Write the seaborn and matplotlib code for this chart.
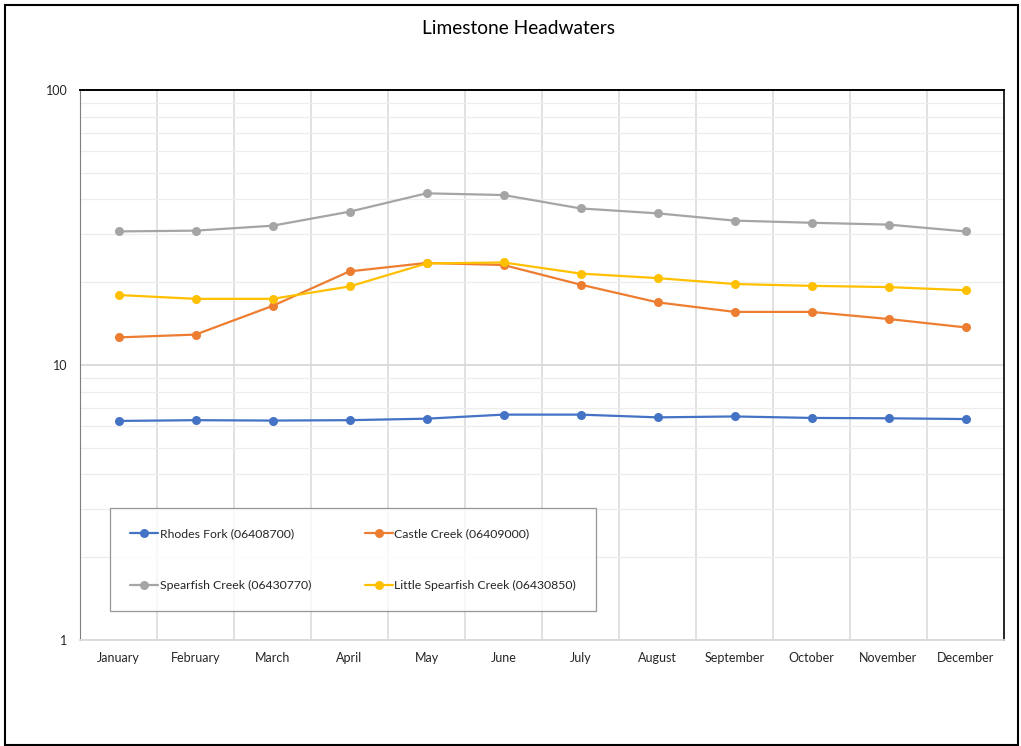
import numpy as np
import pandas as pd
import matplotlib
matplotlib.use("Agg")
import matplotlib.pyplot as plt
import matplotlib.ticker as mticker
from matplotlib.patches import Rectangle
import seaborn as sns

months = ["January", "February", "March", "April", "May", "June", "July",
          "August", "September", "October", "November", "December"]

rhodes_fork = [6.26, 6.30, 6.28, 6.30, 6.38, 6.60, 6.60, 6.45, 6.50, 6.42, 6.40, 6.36]
castle_creek = [12.6, 12.9, 16.4, 21.9, 23.5, 23.1, 19.6, 16.9, 15.6, 15.6, 14.7, 13.7]
spearfish_creek = [30.6, 30.8, 32.1, 36.1, 42.1, 41.5, 37.1, 35.6, 33.5, 32.9, 32.4, 30.6]
little_spearfish = [17.97, 17.4, 17.4, 19.3, 23.4, 23.6, 21.5, 20.7, 19.7, 19.4, 19.2, 18.7]

series_names = ["Rhodes Fork (06408700)", "Castle Creek (06409000)",
                "Spearfish Creek (06430770)", "Little Spearfish Creek (06430850)"]
series_values = [rhodes_fork, castle_creek, spearfish_creek, little_spearfish]
colors = ["#4472C4", "#ED7D31", "#A5A5A5", "#FFC000"]

df = pd.concat(
    [pd.DataFrame({"month": months, "value": vals, "site": name})
     for name, vals in zip(series_names, series_values)],
    ignore_index=True,
)

sns.set_theme(style="white")
plt.rcParams["font.family"] = ["Lato", "DejaVu Sans"]

fig = plt.figure(figsize=(10.21, 7.46), dpi=100)
ax = fig.add_axes([80 / 1021, 1 - 640 / 746, 924 / 1021, 550 / 746])

sns.lineplot(data=df, x="month", y="value", hue="site", palette=colors,
             marker="o", markersize=6.5, markeredgewidth=0, linewidth=1.6,
             ax=ax, legend=True, sort=False)

ax.set_yscale("log")
ax.set_ylim(1, 100)
ax.set_xlim(-0.5, 11.5)

ax.yaxis.set_major_locator(mticker.FixedLocator([1, 10, 100]))
ax.yaxis.set_major_formatter(mticker.FixedFormatter(["1", "10", "100"]))
ax.yaxis.set_minor_locator(mticker.LogLocator(base=10, subs=np.arange(2, 10)))
ax.yaxis.set_minor_formatter(mticker.NullFormatter())
ax.xaxis.set_minor_locator(mticker.FixedLocator(np.arange(0.5, 11, 1)))

ax.grid(False)
ax.grid(axis="y", which="major", color="#D9D9D9", linewidth=1.3)
ax.grid(axis="y", which="minor", color="#EDEDED", linewidth=0.9)
ax.grid(axis="x", which="minor", color="#D9D9D9", linewidth=1.1)
ax.set_axisbelow(True)

ax.tick_params(axis="both", which="both", length=0)
ax.tick_params(axis="x", labelsize=9, colors="#262626", pad=9)
ax.tick_params(axis="y", labelsize=9, colors="#262626", pad=9)
ax.set_xlabel("")
ax.set_ylabel("")

ax.spines["top"].set_color("#000000")
ax.spines["top"].set_linewidth(1.4)
ax.spines["right"].set_color("#262626")
ax.spines["right"].set_linewidth(1.4)
ax.spines["left"].set_color("#7F7F7F")
ax.spines["left"].set_linewidth(0.8)
ax.spines["bottom"].set_color("#D9D9D9")
ax.spines["bottom"].set_linewidth(1.3)

# legend is filled column by column, so order entries to read across rows
handles, labels = ax.get_legend_handles_labels()
order = [0, 2, 1, 3]
leg = ax.legend([handles[i] for i in order], [labels[i] for i in order],
                ncol=2, loc="lower left",
                bbox_to_anchor=(0.0325, 0.0527), frameon=True, fancybox=False,
                fontsize=8.8, handlelength=2.3, handletextpad=0.1,
                columnspacing=4.4, labelspacing=3.3, borderpad=1.65,
                borderaxespad=0)
leg.get_frame().set_edgecolor("#7F7F7F")
leg.get_frame().set_linewidth(0.9)
for t in leg.get_texts():
    t.set_color("#262626")

fig.text(519 / 1021, 1 - 29 / 746, "Limestone Headwaters", ha="center",
         va="center", fontsize=13.8, color="#000000")

fig.patches.append(Rectangle((5 / 1021, 0.002), 1013 / 1021, 1 - 6 / 746,
                             transform=fig.transFigure, fill=False,
                             edgecolor="#000000", linewidth=1.5))

fig.savefig("out.png", dpi=100, facecolor="white")
